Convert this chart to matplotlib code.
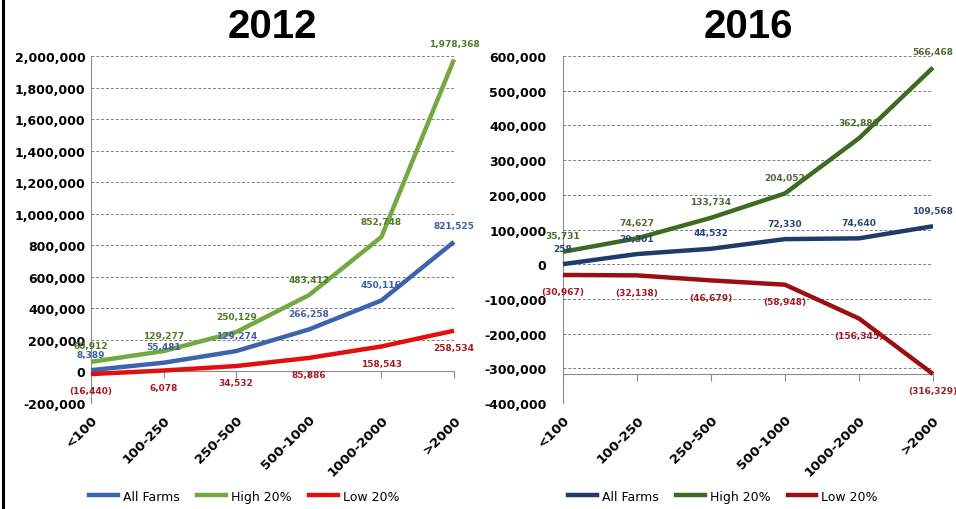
import matplotlib.pyplot as plt
from matplotlib.lines import Line2D
from matplotlib.ticker import FuncFormatter

categories = ["<100", "100-250", "250-500", "500-1000", "1000-2000", ">2000"]

all_2012 = [8389, 55481, 129274, 266258, 450116, 821525]
high_2012 = [60912, 129277, 250129, 483412, 852748, 1978368]
low_2012 = [-16440, 6078, 34532, 85886, 158543, 258534]

all_2016 = [258, 29301, 44532, 72330, 74640, 109568]
high_2016 = [35731, 74627, 133734, 204052, 362880, 566468]
low_2016 = [-30967, -32138, -46679, -58948, -156345, -316329]

series_names = ["All Farms", "High 20%", "Low 20%"]


def fmt_val(v):
    return f"({abs(v):,})" if v < 0 else f"{v:,}"


def draw_panel(ax, title, series, line_colors, label_colors, ylim, ystep,
               cross, ypad, legend_x):
    x = list(range(len(categories)))
    for (vals, lc, tc, below) in zip(series, line_colors, label_colors,
                                      [False, False, True]):
        ax.plot(x, vals, color=lc, lw=3.2, solid_capstyle="butt", zorder=3,
                clip_on=False)
        for xi, v in zip(x, vals):
            ax.annotate(fmt_val(v), (xi, v), xytext=(0, -12 if below else 11.5),
                        textcoords="offset points", ha="center", va="center",
                        fontsize=6.5, fontweight="bold", color=tc,
                        annotation_clip=False, zorder=4)

    ax.set_xlim(0, len(categories) - 1)
    ax.set_ylim(*ylim)
    ax.set_yticks(range(ylim[0], ylim[1] + 1, ystep))
    ax.yaxis.set_major_formatter(FuncFormatter(lambda v, p: f"{int(v):,}"))
    ax.tick_params(axis="y", length=0, pad=ypad, labelsize=9)
    for lab in ax.get_yticklabels():
        lab.set_fontweight("bold")
    ax.grid(axis="y", color="#7f7f7f", ls=(0, (3, 2)), lw=0.7)
    ax.set_axisbelow(True)

    for s in ("top", "right"):
        ax.spines[s].set_visible(False)
    ax.spines["left"].set_color("#8c8c8c")
    ax.spines["bottom"].set_color("#8c8c8c")
    ax.spines["bottom"].set_position(("data", cross))
    ax.set_xticks(x)
    ax.tick_params(axis="x", labelbottom=False, length=5, color="#8c8c8c",
                   direction="out")

    # category labels sit under the plot area, not at the crossing line
    sec = ax.secondary_xaxis("bottom")
    sec.set_xticks(x, categories)
    sec.spines["bottom"].set_visible(False)
    sec.tick_params(length=0, pad=7, labelsize=9.5)
    for lab in sec.get_xticklabels():
        lab.set_rotation(45)
        lab.set_ha("right")
        lab.set_rotation_mode("anchor")
        lab.set_fontweight("bold")

    handles = [Line2D([], [], color=c, lw=3.2) for c in line_colors]
    ax.legend(handles, series_names, loc="center", ncol=3,
              bbox_to_anchor=(legend_x, -0.268), frameon=False, fontsize=9,
              handlelength=2.3, handletextpad=0.4, columnspacing=1.4)

    ax.set_title(title, fontsize=29, fontweight="bold",
                 fontname="Liberation Sans", pad=14)


fig = plt.figure(figsize=(9.56, 5.1), dpi=100)
ax1 = fig.add_axes([0.0952, 0.2078, 0.3797, 0.6804])
ax2 = fig.add_axes([0.5889, 0.2078, 0.387, 0.6804])

draw_panel(ax1, "2012", [all_2012, high_2012, low_2012],
           ["#3c64ad", "#72a941", "#e0100f"],
           ["#3c5fa6", "#4f7a2a", "#a51d23"],
           (-200000, 2000000), 200000, 0, 4, 0.423)
draw_panel(ax2, "2016", [all_2016, high_2016, low_2016],
           ["#1f3b6b", "#3e6b22", "#9b0f12"],
           ["#2b4573", "#4e6b33", "#a01c24"],
           (-400000, 600000), 100000, min(low_2016), 12, 0.432)

fig.add_artist(Line2D([0.003, 0.003], [0, 1], color="black", lw=2.2,
                      transform=fig.transFigure))

fig.savefig("out.png", dpi=100)
